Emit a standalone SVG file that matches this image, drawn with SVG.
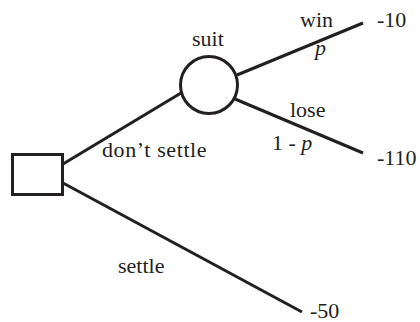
<svg xmlns="http://www.w3.org/2000/svg" width="420" height="322" viewBox="0 0 420 322">
<style>
.i{font-style:italic}
.e{stroke:#231f20;stroke-width:3;fill:none;stroke-linecap:butt}
.n{stroke:#231f20;stroke-width:3;fill:#fff}
</style>
<rect width="420" height="322" fill="#fff"/>
<g id="connectors">
<line class="e" x1="63" y1="164" x2="181" y2="93"/>
<line class="e" x1="237" y1="75" x2="363" y2="23"/>
<line class="e" x1="235" y1="99" x2="363" y2="153"/>
<line class="e" x1="63" y1="183" x2="302" y2="312"/>
</g>
<g id="decision">
<rect class="n" x="12.5" y="154.5" width="50" height="40"/>
</g>
<g font-family="Liberation Serif" font-size="22" fill="#231f20">
<g id="suit">
<circle class="n" cx="209" cy="85" r="28.5"/>
<text x="192" y="46">suit</text>
</g>
<g id="labels">
<text x="300" y="27">win</text>
<text class="i" x="315" y="55">p</text>
<text x="290" y="117">lose</text>
<text x="272" y="150">1 - <tspan class="i">p</tspan></text>
<text x="102" y="157" letter-spacing="0.6">don’t settle</text>
<text x="118" y="273">settle</text>
</g>
<g id="payoffs">
<text x="377" y="27">-10</text>
<text x="377" y="165">-110</text>
<text x="310" y="318">-50</text>
</g>
</g>
</svg>
